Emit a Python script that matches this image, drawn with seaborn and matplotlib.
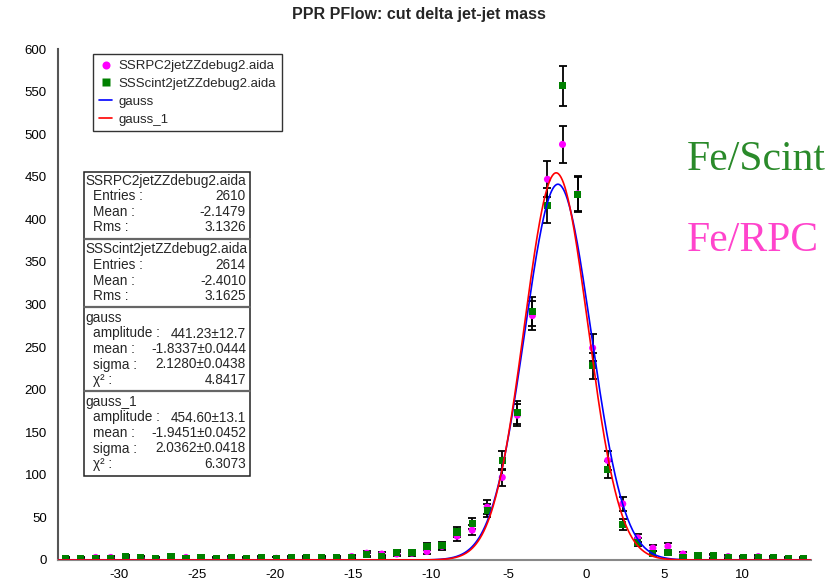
import numpy as np
import matplotlib
matplotlib.use("Agg")
import matplotlib.pyplot as plt
import seaborn as sns
from matplotlib.lines import Line2D
from matplotlib.patches import Rectangle

sns.set_theme(style="white")
plt.rcParams['font.family'] = ['Liberation Sans', 'DejaVu Sans']
plt.rcParams['axes.unicode_minus'] = False

# ---- histogram binning ----
x_lo, x_hi, n_bins = -33.9, 14.4, 50

# bin contents, one value per bin from left to right
rpc_counts = [1, 1, 3, 3, 2, 2, 1, 3, 3, 2,
              1, 2, 1, 2, 2, 2, 2, 2, 2, 4,
              8, 7, 7, 8, 10, 16, 28, 35, 62, 97,
              170, 287, 447, 488, 430, 249, 117, 66, 26, 14,
              16, 7, 3, 4, 4, 2, 4, 2, 1, 1]
scint_counts = [2, 2, 2, 2, 4, 3, 2, 4, 2, 3,
                2, 3, 2, 3, 2, 3, 3, 3, 3, 3,
                6, 4, 9, 9, 16, 17, 33, 43, 58, 117,
                173, 292, 416, 557, 429, 228, 106, 42, 21, 8,
                9, 3, 5, 5, 3, 3, 3, 3, 2, 2]

rpc_name = "SSRPC2jetZZdebug2.aida"
scint_name = "SSScint2jetZZdebug2.aida"
rpc_stats = {"entries": 2610, "mean": -2.1479, "rms": 3.1326}
scint_stats = {"entries": 2614, "mean": -2.4010, "rms": 3.1625}

# gaussian fit results: amplitude, mean, sigma, their errors and chi2
gauss_par = [441.23, -1.8337, 2.1280]
gauss_err = [12.7, 0.0444, 0.0438]
gauss_chi2 = 4.8417
gauss1_par = [454.60, -1.9451, 2.0362]
gauss1_err = [13.1, 0.0452, 0.0418]
gauss1_chi2 = 6.3073

x_ticks = [-30, -25, -20, -15, -10, -5, 0, 5, 10]
y_ticks = list(range(0, 601, 50))

W, H = 834, 580


def fx(px):
    return px / W


def fy(py):
    return 1 - py / H


edges = np.linspace(x_lo, x_hi, n_bins + 1)
centers = 0.5 * (edges[:-1] + edges[1:])
rpc = np.array(rpc_counts, dtype=float)
scint = np.array(scint_counts, dtype=float)


def gauss(x, p):
    a, m, s = p
    return a * np.exp(-0.5 * ((x - m) / s) ** 2)


xs = np.linspace(x_lo, x_hi, 1200)

fig = plt.figure(figsize=(W / 100, H / 100), dpi=100)
ax = fig.add_axes([fx(58), fy(560), fx(811) - fx(58), fy(49) - fy(560)])

# statistical error bars
for counts in (rpc, scint):
    ax.errorbar(centers, counts, yerr=np.sqrt(counts), fmt='none',
                ecolor='black', elinewidth=1.3, capsize=2.7, capthick=1.3,
                zorder=2)

sns.scatterplot(x=centers, y=rpc, ax=ax, marker='o', s=26, color='#ff00ff',
                edgecolor='none', linewidth=0, zorder=3, legend=False)
sns.scatterplot(x=centers, y=scint, ax=ax, marker='s', s=27, color='#008000',
                edgecolor='none', linewidth=0, zorder=4, legend=False)

sns.lineplot(x=xs, y=gauss(xs, gauss_par), ax=ax, color='#0000ff', lw=1.2,
             zorder=5)
sns.lineplot(x=xs, y=gauss(xs, gauss1_par), ax=ax, color='#ff0000', lw=1.2,
             zorder=5)

ax.set_xlim(x_lo, x_hi)
ax.set_ylim(0, 600)
ax.set_xticks(x_ticks)
ax.set_yticks(y_ticks)
ax.tick_params(axis='both', direction='inout', length=10, width=1.1,
               colors='black', labelsize=9.5)
ax.tick_params(axis='x', pad=1.5)
ax.tick_params(axis='y', pad=3)
for side in ('top', 'right'):
    ax.spines[side].set_visible(False)
ax.spines['left'].set_color('#555555')
ax.spines['left'].set_linewidth(1.5)
ax.spines['bottom'].set_color('#888888')
ax.spines['bottom'].set_linewidth(1.5)
ax.grid(False)
ax.set_xlabel('')
ax.set_ylabel('')

fig.text(fx(419), fy(14.5), "PPR PFlow: cut delta jet-jet mass",
         ha='center', va='center', fontsize=11.5, fontweight='bold')

# legend
handles = [
    Line2D([], [], ls='none', marker='o', ms=5.8, color='#ff00ff', mec='none'),
    Line2D([], [], ls='none', marker='s', ms=5.8, color='#008000', mec='none'),
    Line2D([], [], color='#0000ff', lw=1.2),
    Line2D([], [], color='#ff0000', lw=1.2),
]
leg = fig.legend(handles, [rpc_name, scint_name, "gauss", "gauss_1"],
                 loc='upper left', bbox_to_anchor=(fx(93), fy(54)),
                 bbox_transform=fig.transFigure, fontsize=9.5,
                 frameon=True, fancybox=False, borderaxespad=0,
                 borderpad=0.45, labelspacing=0.42, handlelength=1.0,
                 handletextpad=0.5)
leg.get_frame().set_edgecolor('black')
leg.get_frame().set_linewidth(1.0)

# statistics box
sections = [
    (rpc_name, [("Entries :", f"{rpc_stats['entries']}"),
                ("Mean :", f"{rpc_stats['mean']:.4f}"),
                ("Rms :", f"{rpc_stats['rms']:.4f}")]),
    (scint_name, [("Entries :", f"{scint_stats['entries']}"),
                  ("Mean :", f"{scint_stats['mean']:.4f}"),
                  ("Rms :", f"{scint_stats['rms']:.4f}")]),
    ("gauss", [("amplitude :", f"{gauss_par[0]:.2f}±{gauss_err[0]}"),
               ("mean :", f"{gauss_par[1]:.4f}±{gauss_err[1]:.4f}"),
               ("sigma :", f"{gauss_par[2]:.4f}±{gauss_err[2]:.4f}"),
               ("χ² :", f"{gauss_chi2:.4f}")]),
    ("gauss_1", [("amplitude :", f"{gauss1_par[0]:.2f}±{gauss1_err[0]}"),
                 ("mean :", f"{gauss1_par[1]:.4f}±{gauss1_err[1]:.4f}"),
                 ("sigma :", f"{gauss1_par[2]:.4f}±{gauss1_err[2]:.4f}"),
                 ("χ² :", f"{gauss1_chi2:.4f}")]),
]
box_l, box_r, box_t = 84, 250, 172
row_step = 15.5
fs_stats = 9.8
y = box_t + 9
seps = []
for i, (head, rows) in enumerate(sections):
    fig.text(fx(box_l + 1.5), fy(y), head, ha='left', va='center',
             fontsize=fs_stats)
    for j, (lab, val) in enumerate(rows):
        yy = y + row_step * (j + 1)
        fig.text(fx(box_l + 9), fy(yy), lab, ha='left', va='center',
                 fontsize=fs_stats)
        fig.text(fx(box_r - 4), fy(yy), val, ha='right', va='center',
                 fontsize=fs_stats)
    last = y + row_step * len(rows)
    if i < len(sections) - 1:
        sep = last + 11
        seps.append(sep)
        y = sep + 11
    else:
        box_b = last + 12

fig.patches.append(Rectangle((fx(box_l), fy(box_b)), fx(box_r) - fx(box_l),
                             fy(box_t) - fy(box_b), transform=fig.transFigure,
                             fill=True, facecolor='white', edgecolor='#222222',
                             lw=1.1, zorder=0))
for s in seps:
    fig.add_artist(Line2D([fx(box_l), fx(box_r)], [fy(s), fy(s)],
                          transform=fig.transFigure, color='#666666', lw=1.6))

# detector labels
fig.text(fx(687), fy(170), "Fe/Scint", ha='left', va='baseline',
         fontsize=30, color='#2a8a2a', family=['Liberation Serif'])
fig.text(fx(687), fy(251), "Fe/RPC", ha='left', va='baseline',
         fontsize=30, color='#ff44cc', family=['Liberation Serif'])

fig.savefig("out.png", dpi=100)
